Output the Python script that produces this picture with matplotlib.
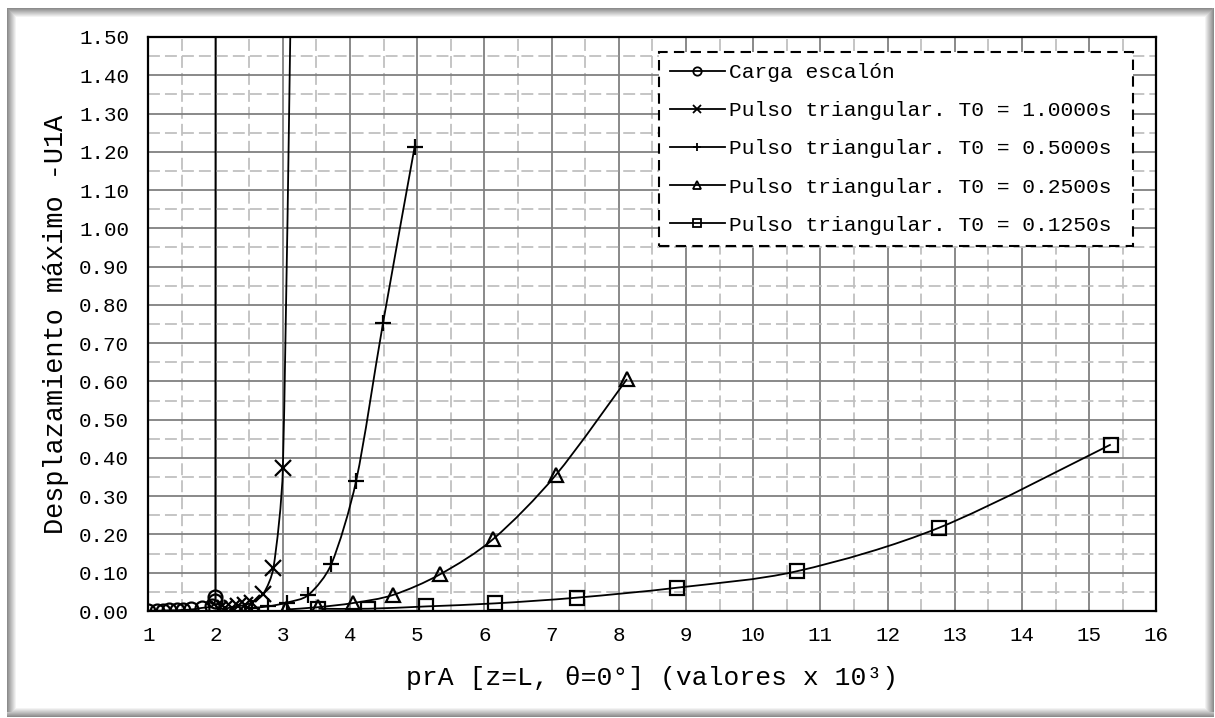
import numpy as np
import matplotlib
matplotlib.use("Agg")
import matplotlib.pyplot as plt
from matplotlib.path import Path
from matplotlib.patches import PathPatch
from matplotlib.lines import Line2D
from matplotlib.ticker import MultipleLocator, FormatStrFormatter

plt.rcParams['font.family'] = ['Liberation Mono', 'DejaVu Sans Mono', 'DejaVu Sans']

# datos
x_escalon = [1.00, 1.12, 1.21, 1.31, 1.42, 1.51, 1.64, 1.79, 1.94, 1.99, 1.995, 2.00]
y_escalon = [0.001, 0.001, 0.001, 0.002, 0.002, 0.003, 0.004, 0.008, 0.012, 0.026, 0.037, 3.0]

x_t1000 = [2.05, 2.14, 2.24, 2.33, 2.43, 2.54, 2.71, 2.86, 3.00, 3.17]
y_t1000 = [0.005, 0.007, 0.009, 0.012, 0.016, 0.022, 0.045, 0.113, 0.373, 2.2]

x_t0500 = [2.54, 2.78, 3.06, 3.38, 3.72, 4.09, 4.49, 4.96]
y_t0500 = [0.008, 0.012, 0.022, 0.042, 0.122, 0.340, 0.752, 1.212]

x_t0250 = [3.05, 3.52, 4.05, 4.64, 5.34, 6.13, 7.06, 8.12]
y_t0250 = [0.004, 0.010, 0.021, 0.042, 0.096, 0.188, 0.355, 0.606]

x_t0125 = [3.53, 4.27, 5.13, 6.16, 7.38, 8.87, 10.65, 12.77, 15.32]
y_t0125 = [0.006, 0.006, 0.012, 0.020, 0.035, 0.061, 0.104, 0.218, 0.435]

series = [
    ("Carga escalón", x_escalon, y_escalon, "o"),
    ("Pulso triangular. T0 = 1.0000s", x_t1000, y_t1000, "x"),
    ("Pulso triangular. T0 = 0.5000s", x_t0500, y_t0500, "+"),
    ("Pulso triangular. T0 = 0.2500s", x_t0250, y_t0250, "^"),
    ("Pulso triangular. T0 = 0.1250s", x_t0125, y_t0125, "s"),
]


def smooth_path(ax, xs, ys):
    # linea suavizada tipo Excel, calculada en pixeles y con tangentes limitadas
    p = ax.transData.transform(np.column_stack([xs, ys]))
    n = len(p)
    verts = [p[0]]
    codes = [Path.MOVETO]

    def cap(v, chord):
        L = np.hypot(*v)
        lim = chord / 3.0
        return v * (lim / L) if L > lim and L > 0 else v

    for i in range(n - 1):
        p0 = p[i - 1] if i > 0 else p[i]
        p3 = p[i + 2] if i + 2 < n else p[i + 1]
        chord = np.hypot(*(p[i + 1] - p[i]))
        c1 = p[i] + cap((p[i + 1] - p0) / 6.0, chord)
        c2 = p[i + 1] - cap((p3 - p[i]) / 6.0, chord)
        verts += [c1, c2, p[i + 1]]
        codes += [Path.CURVE4] * 3
    verts = ax.transData.inverted().transform(np.array(verts))
    return Path(verts, codes)


fig = plt.figure(figsize=(12.15, 7.18), dpi=100)

# marco con sombra
bg = fig.add_axes([0, 0, 1, 1], zorder=-5)
H, W = 718, 1215
img = np.ones((H, W))
for k in range(9):
    v = 0.55 + 0.05 * k
    img[8 + k, 7:1212] = np.minimum(img[8 + k, 7:1212], v)
    img[8:712, 7 + k] = np.minimum(img[8:712, 7 + k], v)
    img[8:712, 1213 - k] = np.minimum(img[8:712, 1213 - k], v)
    img[716 - k, 7:1214] = np.minimum(img[716 - k, 7:1214], v)
bg.imshow(img, cmap="gray", vmin=0, vmax=1, aspect="auto", interpolation="nearest")
bg.axis("off")

ax = fig.add_axes([0.1222, 0.149, 0.8296, 0.7995])
ax.set_xlim(1, 16)
ax.set_ylim(0, 1.5)

handles = []
for label, xs, ys, mk in series:
    ax.add_patch(PathPatch(smooth_path(ax, xs, ys), facecolor="none", edgecolor="black",
                           lw=1.3, zorder=3))
    ms = 11 if mk in ("x", "+") else 10
    ax.plot(xs, ys, linestyle="none", marker=mk, markersize=ms, markerfacecolor="none",
            markeredgecolor="black", markeredgewidth=1.6, zorder=4, clip_on=True)
    handles.append(Line2D([0], [0], color="black", lw=1.3, marker=mk, markersize=6,
                          markerfacecolor="none", markeredgecolor="black",
                          markeredgewidth=1.3, label=label))

ax.set_xlim(1, 16)
ax.set_ylim(0, 1.5)
ax.xaxis.set_major_locator(MultipleLocator(1))
ax.xaxis.set_minor_locator(MultipleLocator(0.5))
ax.yaxis.set_major_locator(MultipleLocator(0.1))
ax.yaxis.set_minor_locator(MultipleLocator(0.05))
ax.yaxis.set_major_formatter(FormatStrFormatter("%.2f"))

ax.grid(which="minor", color="#c0c0c0", linestyle=(0, (6.6, 2.8)), lw=1.3, zorder=0)
ax.grid(which="major", color="#808080", linestyle="-", lw=1.3, zorder=1)
ax.set_axisbelow(True)
ax.tick_params(which="both", length=0)
ax.tick_params(axis="y", labelsize=15, pad=14)
ax.tick_params(axis="x", labelsize=15, pad=11)
for s in ax.spines.values():
    s.set_color("black")
    s.set_linewidth(1.6)

ax.set_ylabel("Desplazamiento máximo -U1A", fontsize=19.4, labelpad=7)
ax.set_xlabel("prA [z=L, θ=0°] (valores x 10³)", fontsize=19, labelpad=15)

leg = ax.legend(handles=handles, loc="upper left", bbox_to_anchor=(0.506, 0.5, 0.471, 0.474),
                mode="expand", fontsize=15.3, handlelength=2.6, handletextpad=0.2,
                labelspacing=0.9, borderpad=0.53, borderaxespad=0, fancybox=False,
                framealpha=1, edgecolor="black")
leg.get_frame().set_linestyle((0, (5, 3)))
leg.get_frame().set_linewidth(1.5)
leg.set_zorder(10)

fig.savefig("out.png", dpi=100)
